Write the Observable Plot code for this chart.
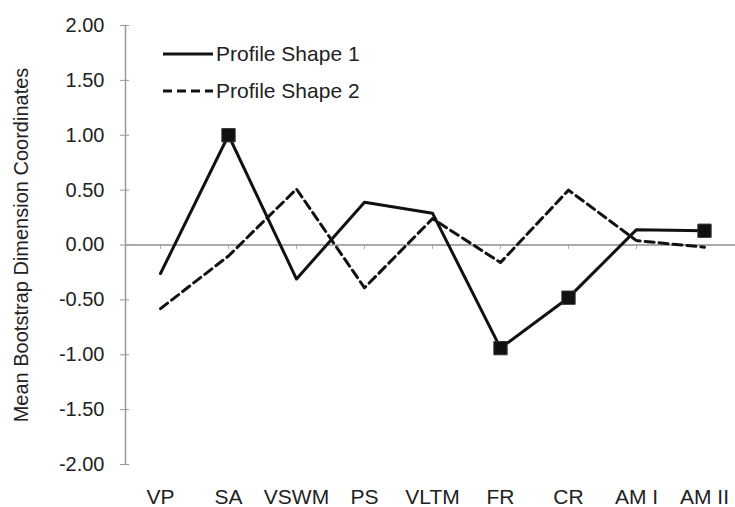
<!DOCTYPE html>
<html>
<head>
<meta charset="utf-8">
<script src="https://cdn.jsdelivr.net/npm/d3@7"></script>
<script src="https://cdn.jsdelivr.net/npm/@observablehq/plot@0.6"></script>
<style>
  html, body { margin: 0; padding: 0; background: #fff; }
  #wrap { position: relative; width: 735px; height: 507px; font-family: "Liberation Sans", Arial, sans-serif; }
  #legend { position: absolute; left: 163px; top: 35px; color: #222; font-size: 21px; }
  #legend .row { display: flex; align-items: center; height: 37px; }
  #legend svg { margin-right: 3px; }
</style>
</head>
<body>
<div id="wrap">
  <div id="chart"></div>
  <div id="legend"></div>
</div>
<script>
const categories = ["VP", "SA", "VSWM", "PS", "VLTM", "FR", "CR", "AM I", "AM II"];
const shape1 = [-0.26, 1.00, -0.31, 0.39, 0.29, -0.94, -0.48, 0.14, 0.13];
const shape2 = [-0.58, -0.10, 0.51, -0.39, 0.24, -0.16, 0.50, 0.04, -0.02];
const markedCategories = ["SA", "FR", "CR", "AM II"];
const yTicks = [-2, -1.5, -1, -0.5, 0, 0.5, 1, 1.5, 2];
const seriesNames = ["Profile Shape 1", "Profile Shape 2"];

const rows1 = categories.map((c, i) => ({cat: c, value: shape1[i]}));
const rows2 = categories.map((c, i) => ({cat: c, value: shape2[i]}));
const marked = rows1.filter(d => markedCategories.includes(d.cat));

const chart = Plot.plot({
  width: 735,
  height: 507,
  marginLeft: 125,
  marginRight: 0,
  marginTop: 25,
  marginBottom: 43,
  style: {fontFamily: "'Liberation Sans', Arial, sans-serif", color: "#222", background: "#fff"},
  x: {type: "point", domain: categories, padding: 0, insetLeft: 32, insetRight: 28},
  y: {domain: [-2, 2]},
  marks: [
    Plot.frame({anchor: "left", stroke: "#999", strokeWidth: 1.5}),
    Plot.ruleY([0], {stroke: "#aaa", strokeWidth: 2}),
    Plot.ruleX(categories, {x: d => d, y1: 0, y2: -0.04, stroke: "#aaa"}),
    Plot.axisY({ticks: yTicks, tickSize: 9, dx: 4, text: null, stroke: "#999", label: null}),
    Plot.axisY({
      ticks: yTicks,
      tickFormat: d => d.toFixed(2),
      tickSize: 0,
      tickPadding: 21,
      fontSize: 20,
      label: "Mean Bootstrap Dimension Coordinates",
      labelAnchor: "center",
      labelArrow: "none",
      labelOffset: 112
    }),
    Plot.axisX({anchor: "bottom", tickSize: 0, tickPadding: 25, fontSize: 21, label: null}),
    Plot.line(rows2, {x: "cat", y: "value", stroke: "#111", strokeWidth: 3, strokeDasharray: "9,5"}),
    Plot.line(rows1, {x: "cat", y: "value", stroke: "#111", strokeWidth: 3}),
    Plot.dot(marked, {x: "cat", y: "value", symbol: "square", r: 7.5, fill: "#111", stroke: "#333", strokeWidth: 1})
  ]
});
document.getElementById("chart").appendChild(chart);

const legend = document.getElementById("legend");
const dashes = [null, "9,5"];
seriesNames.forEach((name, i) => {
  const row = document.createElement("div");
  row.className = "row";
  const s = d3.create("svg").attr("width", 50).attr("height", 10);
  s.append("line").attr("x1", 0).attr("x2", 50).attr("y1", 5).attr("y2", 5)
    .attr("stroke", "#111").attr("stroke-width", 3)
    .attr("stroke-dasharray", dashes[i]);
  row.appendChild(s.node());
  const t = document.createElement("span");
  t.textContent = name;
  row.appendChild(t);
  legend.appendChild(row);
});
</script>
</body>
</html>
